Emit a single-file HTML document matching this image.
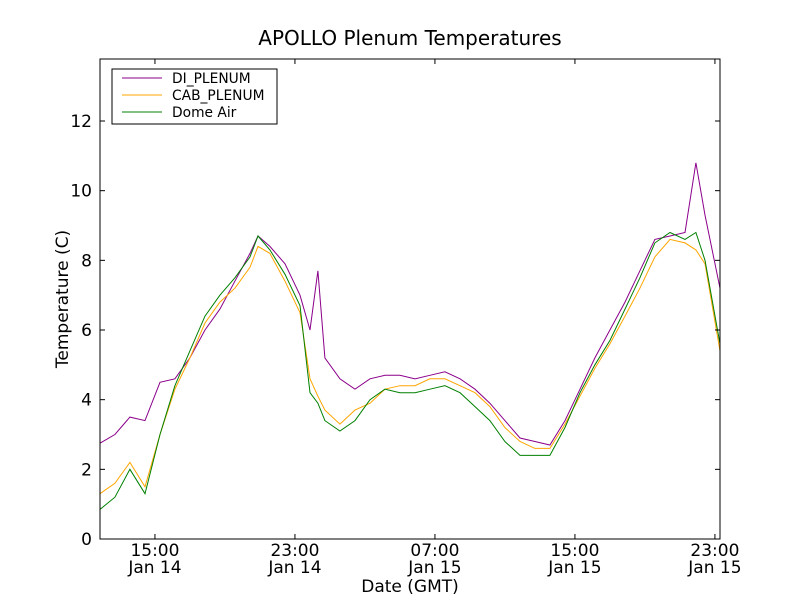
<!DOCTYPE html>
<html><head><meta charset="utf-8"><style>
html,body{margin:0;padding:0;background:#fff;}
svg{display:block;font-family:"DejaVu Sans","Liberation Sans",sans-serif;}
</style></head><body>
<svg id="chart" width="800" height="600">
<rect x="0" y="0" width="800" height="600" fill="#fff"/>
<text x="410" y="45" font-size="20" text-anchor="middle">APOLLO Plenum Temperatures</text>
<g id="plot"></g>
<text x="410" y="592" font-size="17" text-anchor="middle">Date (GMT)</text>
<text x="68" y="299" font-size="17" text-anchor="middle" transform="rotate(-90 68 299)">Temperature (C)</text>
</svg>
<script>
const times=[11.86,12.71,13.57,14.43,15.29,16.14,17.0,17.86,18.71,19.57,20.43,20.89,21.57,22.43,23.29,23.86,24.31,24.71,25.57,26.43,27.29,28.14,29.0,29.86,30.71,31.57,32.43,33.29,34.14,35.0,35.86,36.71,37.57,38.43,39.29,40.14,41.0,41.86,42.71,43.57,44.43,45.29,45.91,46.43,47.29];
const diPlenum=[2.75,3.0,3.5,3.4,4.5,4.6,5.2,6.0,6.6,7.4,8.2,8.7,8.4,7.9,7.0,6.0,7.7,5.2,4.6,4.3,4.6,4.7,4.7,4.6,4.7,4.8,4.6,4.3,3.9,3.4,2.9,2.8,2.7,3.4,4.3,5.2,6.0,6.8,7.7,8.6,8.7,8.8,10.8,9.3,7.2];
const cabPlenum=[1.3,1.6,2.2,1.5,3.0,4.3,5.2,6.2,6.8,7.2,7.8,8.4,8.2,7.4,6.5,4.6,4.1,3.7,3.3,3.7,3.9,4.3,4.4,4.4,4.6,4.6,4.4,4.2,3.8,3.2,2.8,2.6,2.6,3.3,4.1,4.9,5.6,6.4,7.2,8.1,8.6,8.5,8.3,7.9,5.4];
const domeAir=[0.85,1.2,2.0,1.3,3.0,4.4,5.4,6.4,7.0,7.5,8.1,8.7,8.3,7.6,6.7,4.2,3.9,3.4,3.1,3.4,4.0,4.3,4.2,4.2,4.3,4.4,4.2,3.8,3.4,2.8,2.4,2.4,2.4,3.2,4.2,5.0,5.7,6.6,7.5,8.5,8.8,8.6,8.8,8.0,5.6];
const yTicks=[0,2,4,6,8,10,12];
const xTickTimes=[15,23,31,39,47];
const xTickTop=["15:00","23:00","07:00","15:00","23:00"];
const xTickBot=["Jan 14","Jan 14","Jan 15","Jan 15","Jan 15"];
const seriesNames=["DI_PLENUM","CAB_PLENUM","Dome Air"];
const seriesColors=["#8b008b","#ffa500","#008000"];

const L=100,R=720,T=59,B=539,tMin=11.86,tMax=47.29,yMin=0,yMax=13.78;
const xs=t=>L+(t-tMin)/(tMax-tMin)*(R-L);
const ys=v=>B-(v-yMin)/(yMax-yMin)*(B-T);
const NS="http://www.w3.org/2000/svg";
const g=document.getElementById('plot');
function mk(tag,attrs,parent){const e=document.createElementNS(NS,tag);for(const k in attrs)e.setAttribute(k,attrs[k]);(parent||g).appendChild(e);return e;}

const allData=[diPlenum,cabPlenum,domeAir];
allData.forEach((vals,i)=>{
  const p=mk('polyline',{points:vals.map((v,j)=>xs(times[j]).toFixed(1)+','+ys(v).toFixed(1)).join(' '),fill:'none',stroke:seriesColors[i],'stroke-width':1});
  
  
});
const frame=mk('rect',{x:L,y:T,width:R-L,height:B-T,fill:'none',stroke:'#000','stroke-width':1});



yTicks.forEach(v=>{
  const y=ys(v);
  mk('line',{x1:L,x2:L+5,y1:y,y2:y,stroke:'#000'});
  mk('line',{x1:R,x2:R-5,y1:y,y2:y,stroke:'#000'});
  const t=mk('text',{x:L-8,y:y+6,'font-size':17,'text-anchor':'end'});
  t.textContent=v;
  
  
});
xTickTimes.forEach((tt,i)=>{
  const x=xs(tt);
  mk('line',{x1:x,x2:x,y1:B,y2:B-5,stroke:'#000'});
  mk('line',{x1:x,x2:x,y1:T,y2:T+5,stroke:'#000'});
  const a=mk('text',{x:x,y:B+17,'font-size':17,'text-anchor':'middle'});
  a.textContent=xTickTop[i];
  
  
  const b=mk('text',{x:x,y:B+34,'font-size':17,'text-anchor':'middle'});
  b.textContent=xTickBot[i];
  
  
});

const lg=mk('g',{});


mk('rect',{x:112,y:69,width:165,height:55,fill:'#fff',stroke:'#000'},lg);
seriesNames.forEach((n,i)=>{
  const y=78+i*17;
  const ln=mk('line',{x1:122,x2:162,y1:y,y2:y,stroke:seriesColors[i],'stroke-width':1},lg);
  
  
  const t=mk('text',{x:172,y:y+5,'font-size':13.8},lg);
  t.textContent=n;
  
  
});
</script>
</body></html>
